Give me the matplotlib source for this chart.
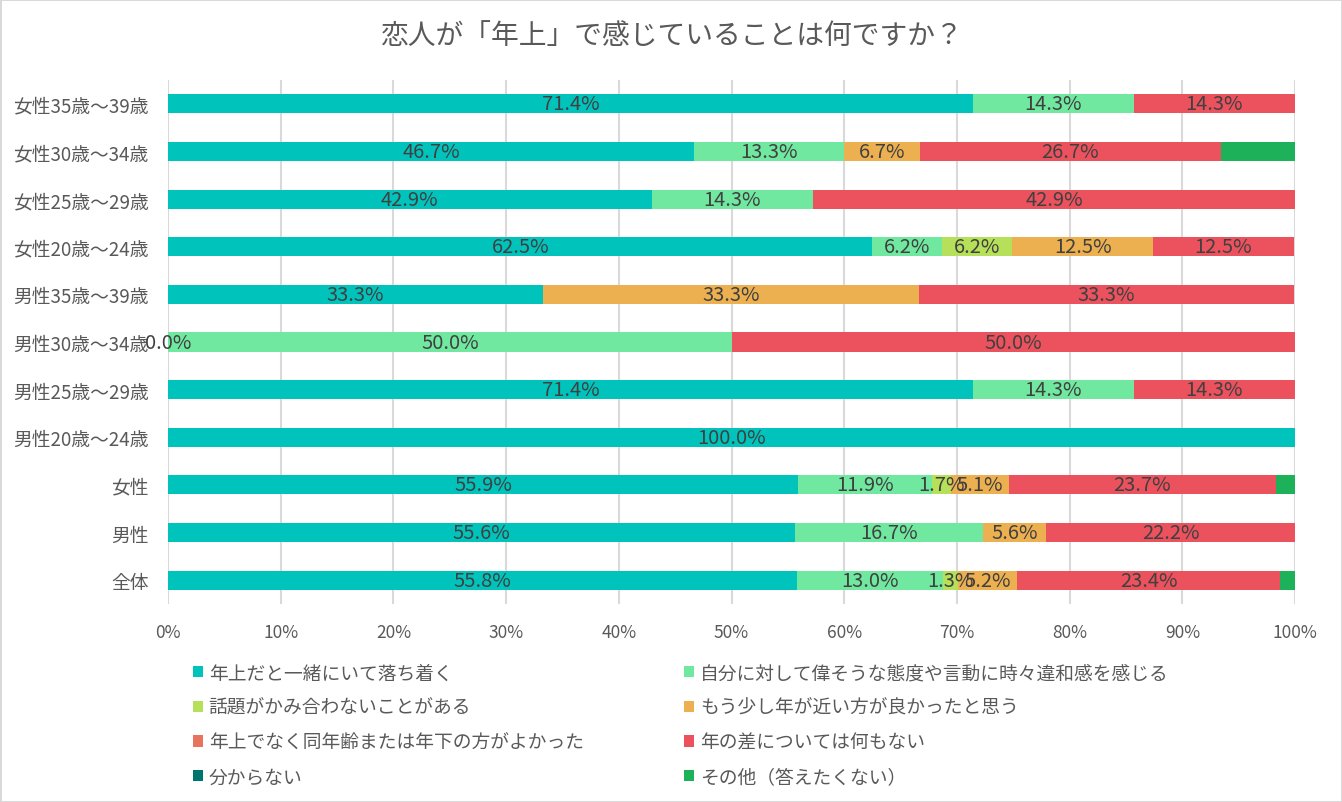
import numpy as np
import matplotlib
matplotlib.use('Agg')
from matplotlib import pyplot as plt

plt.rcParams['font.family'] = ['Noto Sans CJK JP', 'DejaVu Sans']

# data (bottom -> top)
CATEGORIES = ['全体', '男性', '女性',
              '男性20歳～24歳', '男性25歳～29歳', '男性30歳～34歳', '男性35歳～39歳',
              '女性20歳～24歳', '女性25歳～29歳', '女性30歳～34歳', '女性35歳～39歳']

SERIES = ['年上だと一緒にいて落ち着く',
          '自分に対して偉そうな態度や言動に時々違和感を感じる',
          '話題がかみ合わないことがある',
          'もう少し年が近い方が良かったと思う',
          '年上でなく同年齢または年下の方がよかった',
          '年の差については何もない',
          '分からない',
          'その他（答えたくない）']

s_ochitsuku = [55.8, 55.6, 55.9, 100.0, 71.4, 0.0, 33.3, 62.5, 42.9, 46.7, 71.4]
s_iwakan    = [13.0, 16.7, 11.9, 0, 14.3, 50.0, 0, 6.2, 14.3, 13.3, 14.3]
s_wadai     = [1.3, 0, 1.7, 0, 0, 0, 0, 6.2, 0, 0, 0]
s_chikai    = [5.2, 5.6, 5.1, 0, 0, 0, 33.3, 12.5, 0, 6.7, 0]
s_dounen    = [0, 0, 0, 0, 0, 0, 0, 0, 0, 0, 0]
s_nashi     = [23.4, 22.2, 23.7, 0, 14.3, 50.0, 33.3, 12.5, 42.9, 26.7, 14.3]
s_wakaranai = [0, 0, 0, 0, 0, 0, 0, 0, 0, 0, 0]
s_sonota    = [1.3, 0, 1.7, 0, 0, 0, 0, 0, 0, 6.7, 0]

VALUES = [s_ochitsuku, s_iwakan, s_wadai, s_chikai, s_dounen, s_nashi, s_wakaranai, s_sonota]
COLORS = ['#00C4BC', '#70E8A0', '#B6E05A', '#EDB051', '#E8745F', '#EB525E', '#00756E', '#1DB25A']
SHOW_LABEL = [True, True, True, True, True, True, True, False]

fig = plt.figure(figsize=(13.42, 8.03), dpi=100)
fig.patch.set_edgecolor('#D9D9D9')
fig.patch.set_linewidth(2)
ax = fig.add_axes([0.1252, 0.2466, 0.8398, 0.6525])

y = np.arange(len(CATEGORIES))
left = np.zeros(len(CATEGORIES))
handles = []
for i, (name, vals, col) in enumerate(zip(SERIES, VALUES, COLORS)):
    vals = np.array(vals, dtype=float)
    b = ax.barh(y, vals, left=left, height=0.4, color=col, label=name, zorder=2)
    handles.append(b)
    if SHOW_LABEL[i]:
        for yi, l, v in zip(y, left, vals):
            # first series keeps its 0.0% label like the original
            if v > 0 or i == 0:
                ax.text(l + v / 2, yi, f'{v:.1f}%', ha='center', va='center',
                        fontsize=14.5, color='#404040', zorder=3)
    left += vals

ax.set_xlim(0, 100)
ax.set_ylim(-0.5, 10.5)
ax.set_xticks(np.arange(0, 101, 10))
ax.set_xticklabels([f'{t}%' for t in range(0, 101, 10)], fontsize=12.5, color='#595959')
ax.set_yticks(y)
ax.set_yticklabels(CATEGORIES, fontsize=13.5, color='#595959')
ax.tick_params(length=0, pad=14)
ax.tick_params(axis='y', pad=14)
ax.grid(axis='x', color='#D9D9D9', linewidth=1.5, zorder=0)
for s in ax.spines.values():
    s.set_visible(False)

fig.text(0.5, 0.955, '恋人が「年上」で感じていることは何ですか？', ha='center', va='center',
         fontsize=20, color='#595959')

# legend in two columns, row-major order
leg_kw = dict(frameon=False, fontsize=13.5, handlelength=0.55, handleheight=0.55,
              handletextpad=0.3, labelspacing=0.73, labelcolor='#595959', loc='upper left')
leg1 = fig.legend([handles[i] for i in (0, 2, 4, 6)], [SERIES[i] for i in (0, 2, 4, 6)],
                  bbox_to_anchor=(0.131, 0.195), **leg_kw)
leg2 = fig.legend([handles[i] for i in (1, 3, 5, 7)], [SERIES[i] for i in (1, 3, 5, 7)],
                  bbox_to_anchor=(0.497, 0.195), **leg_kw)

fig.savefig('out.png', dpi=100, edgecolor=fig.get_edgecolor())
